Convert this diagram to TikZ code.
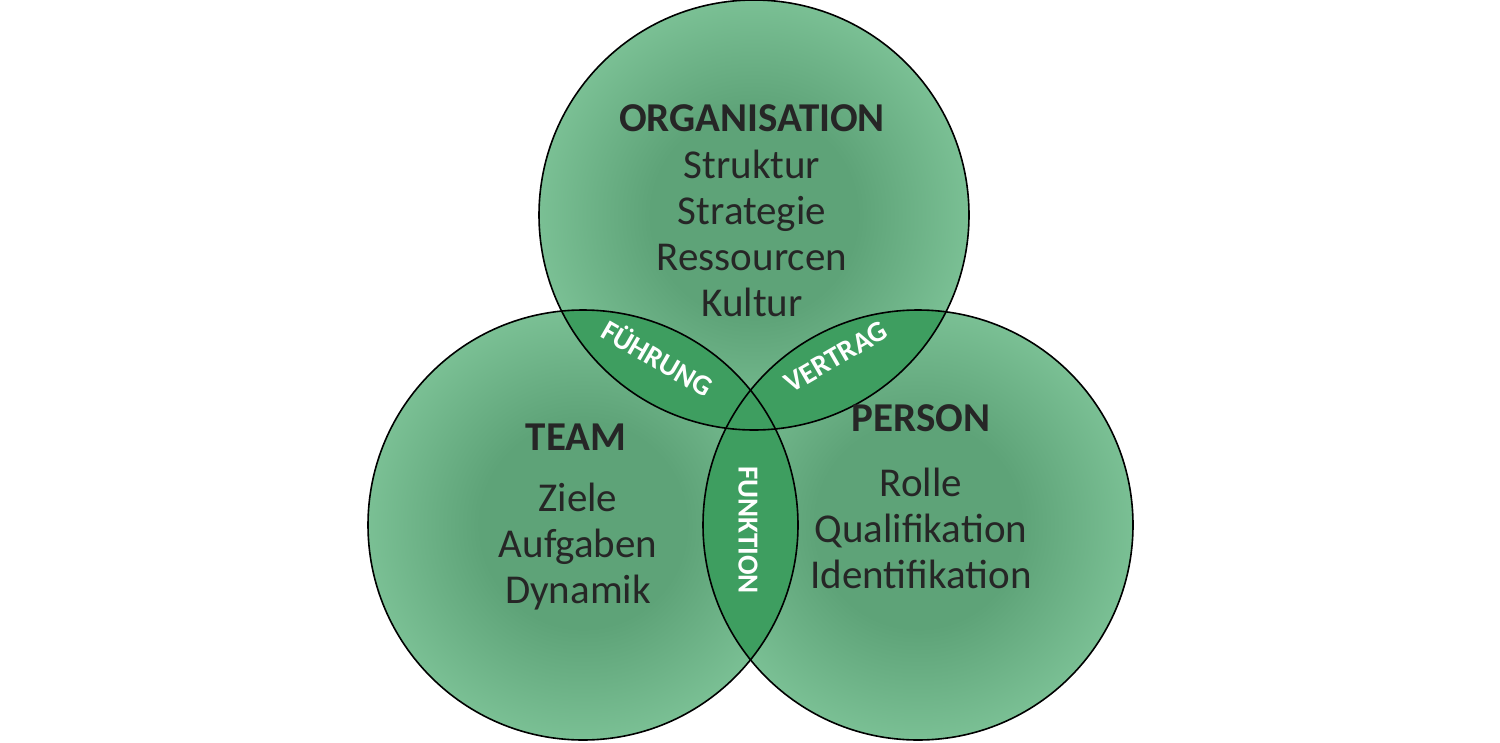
\documentclass[tikz,border=0pt]{standalone}
\usepackage{fontspec}
\setmainfont{Carlito}
\definecolor{cdark}{HTML}{5EA378}
\definecolor{clight}{HTML}{92D8AC}
\definecolor{clens}{HTML}{3E9E60}
\definecolor{ctext}{HTML}{262626}
\pgfdeclareradialshading{venn}{\pgfpoint{0bp}{0bp}}{color(0bp)=(cdark); color(12bp)=(cdark); color(36bp)=(clight); color(100bp)=(clight)}
\begin{document}
\begin{tikzpicture}[x=1pt,y=-1pt,
  main/.style={font=\fontsize{41}{46}\selectfont, text=ctext, align=center},
  head/.style={font=\fontsize{41}{46}\selectfont\bfseries, text=ctext},
  lenslbl/.style={font=\fontsize{29}{30}\selectfont\bfseries, text=white},
  ring/.style={draw=black, line width=1.6pt}]
\useasboundingbox (0,0) rectangle (1500,742);
\def\R{215}
\coordinate (co) at (754,215);
\coordinate (ct) at (583,525);
\coordinate (cp) at (918,525);
\shade[shading=venn] (co) circle (\R);
\shade[shading=venn] (ct) circle (\R);
\shade[shading=venn] (cp) circle (\R);
\begin{scope}\clip (co) circle (\R); \fill[clens] (ct) circle (\R); \fill[clens] (cp) circle (\R);\end{scope}
\begin{scope}\clip (ct) circle (\R); \fill[clens] (cp) circle (\R);\end{scope}
\draw[ring] (co) circle (\R);
\draw[ring] (ct) circle (\R);
\draw[ring] (cp) circle (\R);
\node[head] (orgh) at (752,118) {ORGANISATION};
\node[main] (orgt) at (752,233) {Struktur\\Strategie\\Ressourcen\\Kultur};
\node[head] (teamh) at (576,437) {TEAM};
\node[main] (teamt) at (578,547) {Ziele\\Aufgaben\\Dynamik};
\node[head] (persh) at (921,418) {PERSON};
\node[main] (perst) at (921,528) {Rolle\\Qualifikation\\Identifikation};
\node[lenslbl, rotate=-30] (fuehr) at (658,357) {FÜHRUNG};
\node[lenslbl, rotate=30] (vert) at (836,357) {VERTRAG};
\node[lenslbl, rotate=-90] (funk) at (748,530) {FUNKTION};
\end{tikzpicture}
\end{document}
